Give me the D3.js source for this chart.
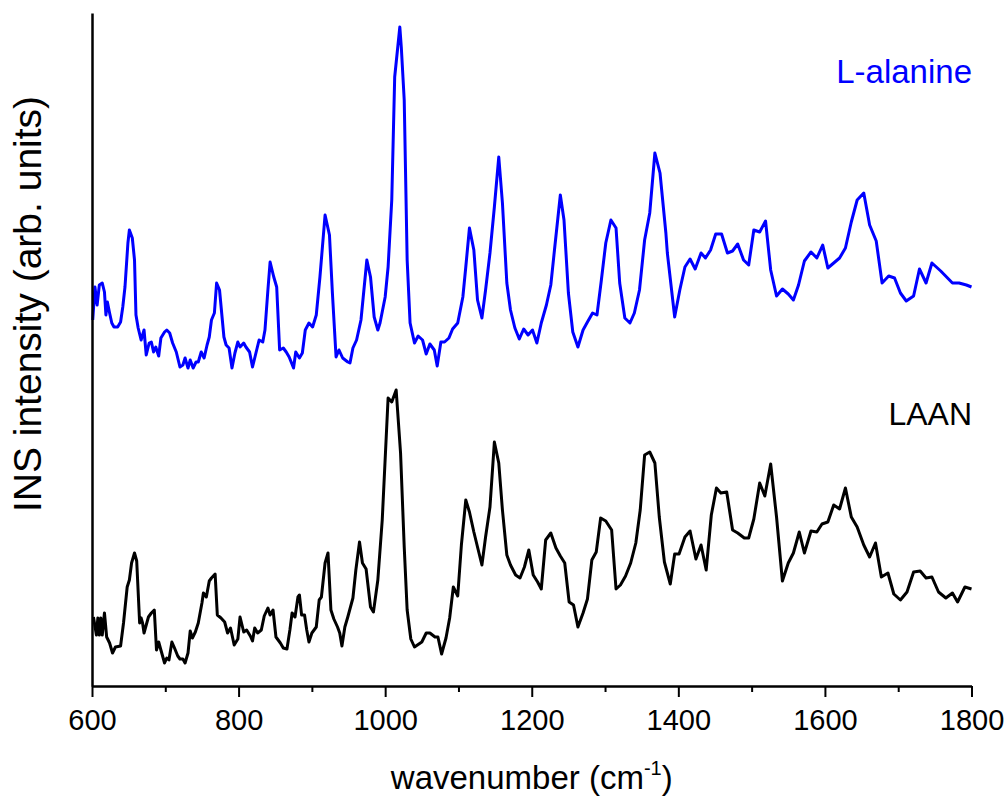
<!DOCTYPE html>
<html>
<head>
<meta charset="utf-8">
<script src="https://cdn.jsdelivr.net/npm/d3@7"></script>
<style>
  html, body { margin: 0; padding: 0; background: #fff; }
  svg { display: block; }
  text { font-family: "Liberation Sans", Arial, sans-serif; }
</style>
</head>
<body>
<svg id="chart" width="1007" height="801"></svg>
<script>
// ---- Data (wavenumber in cm^-1, intensity in arb. units; curves are vertically offset) ----
const alanineWavenumber = [601,604,607,610,614,617,619,621,624,627,630,635,639,642,645,649,651,655,658,660,663,667,671,674,678,681,684,687,691,694,699,702,706,710,715,720,724,727,731,734,738,742,745,749,753,757,760,763,767,770,774,780,783,787,791,795,799,802,807,810,815,819,824,828,833,836,840,843,848,852,856,861,865,869,875,878,883,887,891,896,901,906,911,918,924,928,933,937,942,949,952,956,961,967,975,980,985,990,993,1000,1004,1009,1013,1020,1022,1026,1030,1034,1040,1045,1051,1056,1061,1067,1071,1076,1081,1087,1092,1099,1106,1110,1115,1121,1126,1132,1137,1143,1149,1155,1160,1166,1171,1177,1183,1189,1195,1201,1207,1213,1220,1226,1231,1239,1244,1250,1256,1263,1270,1276,1283,1289,1295,1301,1308,1315,1320,1327,1334,1340,1347,1354,1361,1368,1375,1383,1385,1395,1402,1409,1416,1423,1431,1437,1444,1451,1459,1467,1474,1481,1489,1496,1503,1511,1519,1526,1534,1542,1550,1557,1564,1572,1581,1589,1597,1604,1612,1620,1628,1636,1644,1653,1661,1670,1678,1687,1695,1703,1711,1721,1729,1738,1746,1758,1774,1783,1793,1800];
const alanineIntensity = [3.63,3.96,3.78,3.98,4.00,3.91,3.68,3.81,3.70,3.60,3.56,3.56,3.61,3.76,3.96,4.40,4.53,4.45,4.23,3.68,3.55,3.43,3.53,3.28,3.40,3.41,3.31,3.36,3.27,3.45,3.51,3.53,3.50,3.40,3.31,3.16,3.18,3.25,3.15,3.23,3.15,3.21,3.21,3.31,3.25,3.38,3.46,3.63,3.70,4.00,3.93,3.46,3.38,3.35,3.15,3.30,3.41,3.36,3.40,3.36,3.31,3.16,3.31,3.43,3.41,3.53,3.93,4.21,4.06,3.96,3.33,3.35,3.31,3.26,3.15,3.31,3.25,3.30,3.53,3.60,3.56,3.68,4.06,4.68,4.48,3.90,3.26,3.33,3.25,3.21,3.20,3.35,3.43,3.63,4.23,4.06,3.66,3.53,3.60,3.86,4.16,4.83,6.06,6.56,6.36,5.83,4.23,3.60,3.40,3.47,3.43,3.29,3.39,3.33,3.17,3.41,3.41,3.45,3.54,3.60,3.86,4.16,4.55,4.33,3.83,3.65,3.93,4.30,4.76,5.26,4.80,4.00,3.73,3.55,3.44,3.54,3.48,3.53,3.40,3.60,3.78,3.98,4.33,4.88,4.63,3.90,3.51,3.36,3.53,3.61,3.70,3.68,4.03,4.40,4.63,4.55,4.00,3.65,3.60,3.70,3.93,4.43,4.70,5.30,5.10,4.50,4.30,3.66,3.93,4.16,4.24,4.14,4.30,4.25,4.33,4.49,4.49,4.30,4.32,4.39,4.23,4.18,4.53,4.51,4.62,4.13,3.87,3.94,3.89,3.83,3.98,4.22,4.31,4.25,4.38,4.15,4.20,4.25,4.35,4.61,4.83,4.90,4.58,4.42,4.00,4.07,4.05,3.90,3.82,3.87,4.14,4.00,4.20,4.12,4.00,4.00,3.98,3.96];

const laanWavenumber = [602,606,608,610,612,614,617,620,624,628,632,639,643,648,651,654,658,661,665,667,669,671,677,681,685,688,691,694,699,702,705,709,712,717,720,724,727,731,734,737,741,745,750,752,756,760,763,768,771,776,781,785,789,794,799,802,807,811,816,819,822,826,831,835,840,843,847,851,857,861,866,870,873,877,881,883,886,890,893,896,900,906,910,913,918,922,926,930,935,938,941,945,949,956,960,965,969,974,980,984,990,996,1004,1009,1015,1021,1026,1030,1035,1040,1050,1056,1061,1068,1072,1077,1083,1088,1093,1099,1104,1110,1115,1121,1127,1132,1137,1143,1149,1155,1160,1166,1171,1178,1184,1190,1196,1202,1208,1213,1219,1226,1233,1239,1245,1251,1257,1263,1270,1276,1282,1288,1294,1301,1309,1315,1321,1328,1335,1342,1348,1354,1361,1368,1374,1381,1389,1395,1401,1409,1416,1424,1431,1438,1445,1452,1458,1466,1474,1481,1490,1496,1503,1511,1518,1526,1534,1542,1550,1557,1565,1572,1581,1589,1596,1604,1612,1620,1628,1636,1644,1653,1661,1669,1677,1686,1694,1703,1712,1721,1730,1738,1746,1755,1765,1774,1781,1791,1800];
const laanIntensity = [0.66,0.48,0.65,0.48,0.65,0.48,0.70,0.46,0.40,0.30,0.36,0.37,0.60,0.96,1.03,1.20,1.30,1.22,0.60,0.65,0.60,0.50,0.66,0.70,0.73,0.33,0.41,0.33,0.20,0.25,0.23,0.41,0.36,0.27,0.24,0.24,0.20,0.30,0.52,0.45,0.51,0.60,0.80,0.90,0.86,1.02,1.05,1.09,0.68,0.65,0.61,0.50,0.55,0.38,0.44,0.66,0.51,0.53,0.47,0.42,0.55,0.50,0.53,0.67,0.75,0.68,0.73,0.46,0.40,0.35,0.34,0.53,0.70,0.66,0.86,0.88,0.68,0.68,0.53,0.41,0.50,0.56,0.83,0.86,1.20,1.30,0.73,0.64,0.56,0.50,0.37,0.56,0.66,0.85,1.13,1.41,1.20,1.14,0.76,0.71,1.03,1.63,2.85,2.81,2.93,2.30,1.36,0.73,0.44,0.36,0.41,0.50,0.50,0.46,0.46,0.29,0.45,0.65,0.96,0.87,1.38,1.83,1.71,1.51,1.33,1.18,1.46,1.76,2.41,2.20,1.73,1.28,1.18,1.08,1.05,1.16,1.33,1.08,1.01,0.94,1.43,1.50,1.35,1.27,1.20,0.81,0.78,0.56,0.70,0.84,1.23,1.31,1.65,1.62,1.53,0.94,0.98,1.07,1.20,1.40,1.73,2.28,2.31,2.20,1.66,1.21,0.99,1.29,1.29,1.46,1.52,1.24,1.38,1.13,1.68,1.95,1.90,1.91,1.53,1.50,1.45,1.45,1.64,2.00,1.87,2.19,1.66,1.02,1.20,1.30,1.51,1.30,1.52,1.51,1.59,1.61,1.78,1.74,1.95,1.66,1.56,1.38,1.26,1.40,1.06,1.10,0.89,0.83,0.91,1.11,1.12,1.05,1.06,0.91,0.85,0.90,0.81,0.96,0.94];

const majorTicks = [600, 800, 1000, 1200, 1400, 1600, 1800];
const minorTicks = [700, 900, 1100, 1300, 1500, 1700];
const xDomain = [600, 1800];
const yDomain = [-0.03, 6.70];
const seriesLabels = ["L-alanine", "LAAN"];
const xTitle = "wavenumber (cm";
const xTitleSup = "-1";
const yTitle = "INS intensity (arb. units)";

// ---- Layout ----
const svg = d3.select("#chart");
const plotLeft = 92, plotRight = 971.5, plotTop = 13, plotBottom = 686;

const x = d3.scaleLinear().domain(xDomain).range([plotLeft, plotRight]);
const y = d3.scaleLinear().domain(yDomain).range([plotBottom, plotTop]);

const line = d3.line().x(d => x(d[0])).y(d => y(d[1]));

const alanine = alanineWavenumber.map((w, i) => [w, alanineIntensity[i]]);
const laan = laanWavenumber.map((w, i) => [w, laanIntensity[i]]);

svg.append("path").datum(laan)
  .attr("d", line).attr("fill", "none")
  .attr("stroke", "#000").attr("stroke-width", 3)
  .attr("stroke-linejoin", "round");

svg.append("path").datum(alanine)
  .attr("d", line).attr("fill", "none")
  .attr("stroke", "#0000ff").attr("stroke-width", 3)
  .attr("stroke-linejoin", "round");

// Minor ticks
const minorAxis = svg.append("g").attr("transform", `translate(0,${plotBottom})`)
  .call(d3.axisBottom(x).tickValues(minorTicks).tickSize(6).tickFormat(""));
minorAxis.select(".domain").remove();
minorAxis.selectAll("line").attr("stroke-width", 2);

// Major ticks + labels
const majorAxis = svg.append("g").attr("transform", `translate(0,${plotBottom})`)
  .call(d3.axisBottom(x).tickValues(majorTicks).tickSize(11).tickPadding(12).tickSizeOuter(0).tickFormat(d3.format("d")));
majorAxis.select(".domain").attr("stroke-width", 2.5);
majorAxis.selectAll("line").attr("stroke-width", 2);
majorAxis.selectAll("text")
  .attr("font-size", 29).attr("fill", "#000")
  .style("font-family", '"Liberation Sans", Arial, sans-serif');

// Y axis (line only)
const yAxis = svg.append("g").attr("transform", `translate(${plotLeft},0)`)
  .call(d3.axisLeft(y).tickValues([]).tickSizeOuter(0));
yAxis.select(".domain").attr("stroke-width", 2.5);

// Axis titles
const xt = svg.append("text")
  .attr("x", (plotLeft + plotRight) / 2).attr("y", 789)
  .attr("text-anchor", "middle").attr("font-size", 33).attr("fill", "#000");
xt.append("tspan").text(xTitle);
xt.append("tspan").attr("font-size", 20).attr("dy", -14).text(xTitleSup);
xt.append("tspan").attr("dy", 14).text(")");

svg.append("text")
  .attr("transform", "translate(41,304) rotate(-90)")
  .attr("text-anchor", "middle").attr("font-size", 39).attr("fill", "#000")
  .text(yTitle);

// Series labels
svg.append("text").attr("x", 972).attr("y", 83)
  .attr("text-anchor", "end").attr("font-size", 33).attr("fill", "#0000ff")
  .text(seriesLabels[0]);
svg.append("text").attr("x", 972).attr("y", 425)
  .attr("text-anchor", "end").attr("font-size", 32).attr("fill", "#000")
  .text(seriesLabels[1]);
</script>
</body>
</html>
